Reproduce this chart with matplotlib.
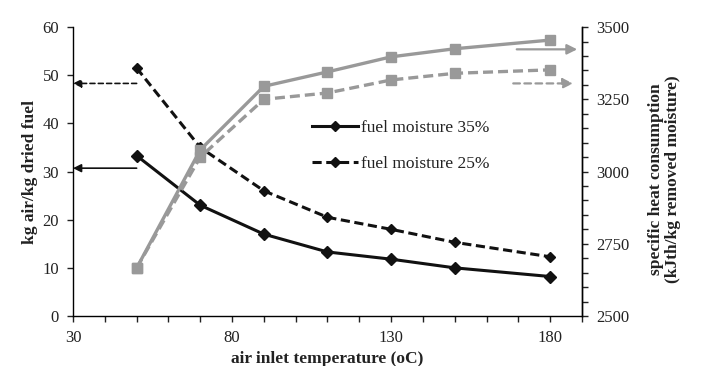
import matplotlib
matplotlib.use("Agg")
import matplotlib.pyplot as plt
from matplotlib.ticker import MultipleLocator, FixedLocator
from matplotlib.lines import Line2D

plt.rcParams['font.family'] = ['Liberation Serif', 'DejaVu Serif']

temps = [50, 70, 90, 110, 130, 150, 180]
air_35 = [33.3, 23.0, 17.0, 13.3, 11.8, 10.0, 8.2]
air_25 = [51.5, 35.0, 26.0, 20.5, 18.0, 15.3, 12.3]
heat_35 = [2666, 3075, 3295, 3345, 3397, 3425, 3455]
heat_25 = [2666, 3050, 3250, 3272, 3317, 3340, 3352]

x_major = [30, 80, 130, 180]
legend_labels = ["fuel moisture 35%", "fuel moisture 25%"]

black = "#111111"
gray = "#999999"
txt = "#222222"

fig = plt.figure(figsize=(7.02, 3.66), dpi=100)
ax = fig.add_axes([0.104, 0.1366, 0.725, 0.7894])
ax2 = ax.twinx()

ax.plot(temps, air_35, color=black, lw=2.2, marker='D', ms=6.5, zorder=3)
ax.plot(temps, air_25, color=black, lw=2.2, ls=(0, (3, 1.5)), marker='D', ms=5.5, zorder=3)
ax2.plot(temps, heat_35, color=gray, lw=2.4, marker='s', ms=7.5)
ax2.plot(temps, heat_25, color=gray, lw=2.4, ls=(0, (3, 1.5)), marker='s', ms=7.5)

ax.set_xlim(30, 190)
ax.set_ylim(0, 60)
ax2.set_ylim(2500, 3500)

ax.xaxis.set_major_locator(FixedLocator(x_major))
ax.xaxis.set_minor_locator(MultipleLocator(10))
ax.yaxis.set_major_locator(MultipleLocator(10))
ax2.yaxis.set_major_locator(MultipleLocator(250))
ax2.yaxis.set_minor_locator(MultipleLocator(50))

for a in (ax, ax2):
    a.spines['top'].set_visible(False)
    a.tick_params(which='both', direction='out', length=4, width=1, labelsize=12,
                  colors=txt, pad=6)
    for s in a.spines.values():
        s.set_linewidth(1.0)
ax2.spines['left'].set_visible(False)
ax2.spines['bottom'].set_visible(False)

ax.set_xlabel("air inlet temperature (oC)", fontsize=12.5, fontweight='bold', labelpad=4,
              color=txt)
ax.set_ylabel("kg air/kg dried fuel", fontsize=12.5, fontweight='bold', labelpad=3,
              color=txt)
ax2.set_ylabel("specific heat consumption\n(kJth/kg removed moisture)", fontsize=12.5,
               fontweight='bold', linespacing=1.05, color=txt)
ax2.yaxis.set_label_coords(1.13, 0.475)

# arrows
ax.annotate("", xy=(30, 48.3), xytext=(50, 48.3),
            arrowprops=dict(arrowstyle='-|>', color=black, lw=1.2, ls=(0, (3, 2)),
                            mutation_scale=12, shrinkA=0, shrinkB=0))
ax.annotate("", xy=(30, 30.7), xytext=(50, 30.7),
            arrowprops=dict(arrowstyle='-|>', color=black, lw=1.2,
                            mutation_scale=12, shrinkA=0, shrinkB=0))
ax2.annotate("", xy=(188.5, 3423), xytext=(169.5, 3423),
             arrowprops=dict(arrowstyle='-|>', color=gray, lw=1.6,
                             mutation_scale=15, shrinkA=0, shrinkB=0))
ax2.annotate("", xy=(187.2, 3305), xytext=(168.4, 3305),
             arrowprops=dict(arrowstyle='-|>', color=gray, lw=1.6, ls=(0, (3, 2)),
                             mutation_scale=15, shrinkA=0, shrinkB=0))

handles = [Line2D([], [], color=black, lw=2.2, marker='D', ms=5.5),
           Line2D([], [], color=black, lw=2.2, ls=(0, (3, 1.5)), marker='D', ms=5.0)]
ax.legend(handles, legend_labels, loc='upper left', bbox_to_anchor=(0.4696, 0.68),
          frameon=False, fontsize=12.5, handlelength=2.65, handletextpad=0.15,
          numpoints=1, labelspacing=1.15, labelcolor=txt, borderpad=0,
          borderaxespad=0)

fig.savefig("out.png", dpi=100)
